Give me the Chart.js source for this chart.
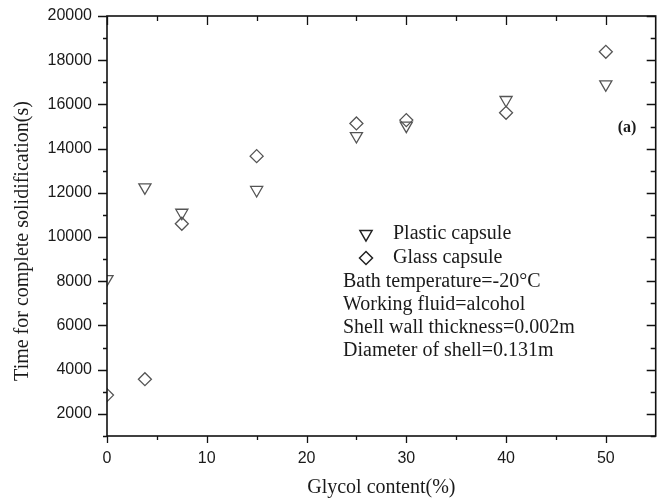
<!DOCTYPE html>
<html>
<head>
<meta charset="utf-8">
<script src="https://cdn.jsdelivr.net/npm/chart.js@4/dist/chart.umd.min.js"></script>
<style>
  html, body { margin: 0; padding: 0; background: #fff; }
  #wrap { width: 664px; height: 503px; }
</style>
</head>
<body>
<div id="wrap"><canvas id="solid-chart" width="664" height="503"></canvas></div>
<script>
// glycol content (%) for each measurement
const glycol = [0, 3.8, 7.5, 15, 25, 30, 40, 50];
// time for complete solidification (s)
const plasticTime = [8100, 12250, 11100, 12130, 14570, 15040, 16200, 16910];
const glassTime = [2850, 3570, 10600, 13660, 15140, 15290, 15620, 18380];

const notes = [
    'Bath temperature=-20\u00b0C',
    'Working fluid=alcohol',
    'Shell wall thickness=0.002m',
    'Diameter of shell=0.131m'
];

const serif = '"Liberation Serif", "Times New Roman", serif';
const sans = '"Liberation Sans", Arial, sans-serif';
const markColor = '#555';

function toPoints(xs, ys) {
    return xs.map((x, i) => ({ x: x, y: ys[i] }));
}

// frame + ticks on all four sides, like the origin plot
const frameTicks = {
    id: 'frameTicks',
    afterDraw(chart) {
        const ctx = chart.ctx;
        const a = chart.chartArea;
        const xs = chart.scales.x;
        const ys = chart.scales.y;
        ctx.save();
        ctx.strokeStyle = '#111';
        ctx.lineWidth = 1.6;
        ctx.strokeRect(a.left, a.top, a.right - a.left, a.bottom - a.top);
        ctx.lineWidth = 1.3;
        ctx.beginPath();
        for (let v = 0; v < 55; v += 5) {
            const px = Math.round(xs.getPixelForValue(v)) + 0.5;
            const major = v % 10 === 0;
            ctx.moveTo(px, a.bottom); ctx.lineTo(px, a.bottom + (major ? 7 : 4));
            ctx.moveTo(px, a.top); ctx.lineTo(px, a.top + (major ? 9 : 5));
        }
        for (let v = 1000; v <= 20000; v += 1000) {
            const py = Math.round(ys.getPixelForValue(v)) + 0.5;
            const major = v % 2000 === 0;
            ctx.moveTo(a.left, py); ctx.lineTo(a.left - (major ? 9 : 4), py);
            ctx.moveTo(a.right, py); ctx.lineTo(a.right - (major ? 9 : 5), py);
        }
        ctx.stroke();
        ctx.restore();
    }
};

// legend, notes and y title
const notesBox = {
    id: 'notesBox',
    afterDraw(chart) {
        const ctx = chart.ctx;
        ctx.save();
        ctx.textBaseline = 'middle';
        ctx.font = '20px ' + serif;
        chart.data.datasets.forEach((ds, i) => {
            const y = 234 + i * 24;
            ctx.fillStyle = '#fff';
            ctx.strokeStyle = '#222';
            ctx.lineWidth = 1.5;
            Chart.helpers.drawPoint(ctx, {
                pointStyle: ds.pointStyle,
                rotation: ds.rotation || 0,
                radius: ds.pointRadius,
                borderWidth: 1.5
            }, 366, y);
            ctx.fillStyle = '#1a1a1a';
            ctx.fillText(ds.label, 393, y);
        });
        ctx.fillStyle = '#1a1a1a';
        notes.forEach((t, i) => {
            ctx.fillText(t, 343, 282 + i * 23);
        });
        ctx.font = 'bold 16px ' + serif;
        ctx.textAlign = 'center';
        ctx.fillText('(a)', 627, 128);

        ctx.translate(23, 241);
        ctx.rotate(-Math.PI / 2);
        ctx.font = '20px ' + serif;
        ctx.fillText('Time for complete solidification(s)', 0, 0);
        ctx.restore();
    }
};

new Chart(document.getElementById('solid-chart'), {
    type: 'scatter',
    data: {
        datasets: [
            {
                label: 'Plastic capsule',
                data: toPoints(glycol, plasticTime),
                pointStyle: 'triangle',
                rotation: 180,
                pointRadius: 7,
                borderWidth: 1.3,
                borderColor: markColor,
                backgroundColor: 'rgba(255,255,255,0)',
                clip: 0
            },
            {
                label: 'Glass capsule',
                data: toPoints(glycol, glassTime),
                pointStyle: 'rectRot',
                pointRadius: 6.5,
                borderWidth: 1.3,
                borderColor: markColor,
                backgroundColor: 'rgba(255,255,255,0)',
                clip: 0
            }
        ]
    },
    options: {
        responsive: false,
        animation: false,
        layout: { padding: { top: 16, right: 8, left: 0, bottom: 0 } },
        plugins: {
            legend: { display: false },
            tooltip: { enabled: false }
        },
        scales: {
            x: {
                type: 'linear',
                min: 0,
                max: 55,
                grid: { drawOnChartArea: false, drawTicks: false },
                border: { display: false },
                ticks: {
                    stepSize: 5,
                    autoSkip: false,
                    maxRotation: 0,
                    padding: 13,
                    color: '#1a1a1a',
                    font: { family: sans, size: 16 },
                    callback: v => (v % 10 === 0 ? String(v) : '')
                },
                title: {
                    display: true,
                    text: 'Glycol content(%)',
                    color: '#1a1a1a',
                    font: { family: serif, size: 20 },
                    padding: { top: 3, bottom: 3 }
                },
                afterFit: s => {
                    s.height = 67;
                    s.paddingLeft = 0;
                    s.paddingRight = 0;
                }
            },
            y: {
                type: 'linear',
                min: 1000,
                max: 20000,
                grid: { drawOnChartArea: false, drawTicks: false },
                border: { display: false },
                ticks: {
                    stepSize: 1000,
                    autoSkip: false,
                    padding: 15,
                    color: '#1a1a1a',
                    font: { family: sans, size: 16 },
                    callback: v => (v % 2000 === 0 ? String(v) : '')
                },
                title: { display: false },
                afterFit: s => {
                    s.width = 107;
                    s.paddingTop = 0;
                    s.paddingBottom = 0;
                }
            }
        }
    },
    plugins: [frameTicks, notesBox]
});
</script>
</body>
</html>
